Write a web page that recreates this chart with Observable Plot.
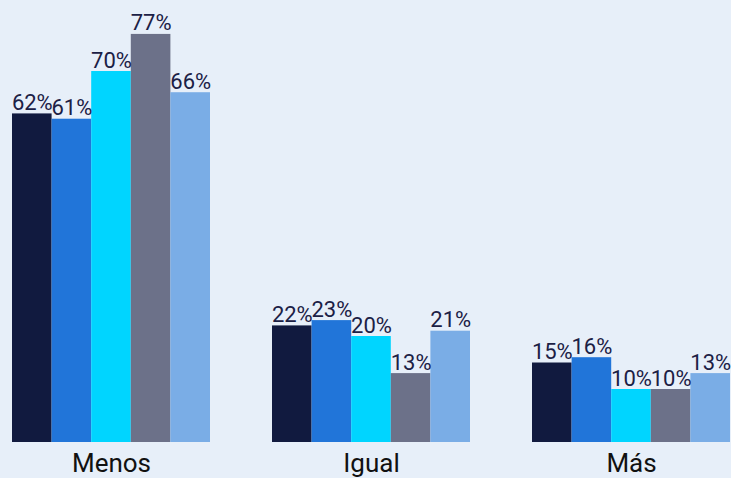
<!DOCTYPE html>
<html>
<head>
<meta charset="utf-8">
<script src="https://cdn.jsdelivr.net/npm/d3@7"></script>
<script src="https://cdn.jsdelivr.net/npm/@observablehq/plot@0.6"></script>
<style>
  html, body { margin: 0; padding: 0; background: #e7eff9; }
  #chart { width: 731px; height: 478px; overflow: hidden; }
  svg { font-family: Roboto, "Open Sans", sans-serif; }
</style>
</head>
<body>
<div id="chart"></div>
<script>
const groups = ["Menos", "Igual", "Más"];
const series = ["S1", "S2", "S3", "S4", "S5"];
const colors = ["#111a3f", "#2175d9", "#00d5ff", "#6c7189", "#7aade6"];
const menos = [62, 61, 70, 77, 66];
const igual = [22, 23, 20, 13, 21];
const mas = [15, 16, 10, 10, 13];

const values = [menos, igual, mas];
const data = [];
groups.forEach((g, gi) => {
  series.forEach((s, si) => {
    data.push({group: g, series: s, value: values[gi][si]});
  });
});

const chart = Plot.plot({
  width: 731,
  height: 478,
  marginTop: 0,
  marginBottom: 36,
  marginLeft: 12,
  marginRight: 1,
  style: {background: "#e7eff9", fontFamily: "Roboto, 'Open Sans', sans-serif"},
  fx: {domain: groups, paddingInner: 0.2385, paddingOuter: 0, round: false, label: null},
  x: {domain: series, padding: 0, round: false, axis: null},
  y: {domain: [0, 83.4], axis: null},
  color: {domain: series, range: colors},
  marks: [
    Plot.barY(data, {fx: "group", x: "series", y: "value", fill: "series"}),
    Plot.text(data, {fx: "group", x: "series", y: "value", text: d => d.value + "%",
      lineAnchor: "bottom", dy: -4, fontSize: 22, fill: "#1b2045", fontWeight: 400}),
    Plot.axisFx({anchor: "bottom", tickSize: 0, tickPadding: 11, fontSize: 26, fill: "#111",
      fontWeight: 400, label: null, letterSpacing: "-0.8px"})
  ]
});
document.getElementById("chart").appendChild(chart);
</script>
</body>
</html>
